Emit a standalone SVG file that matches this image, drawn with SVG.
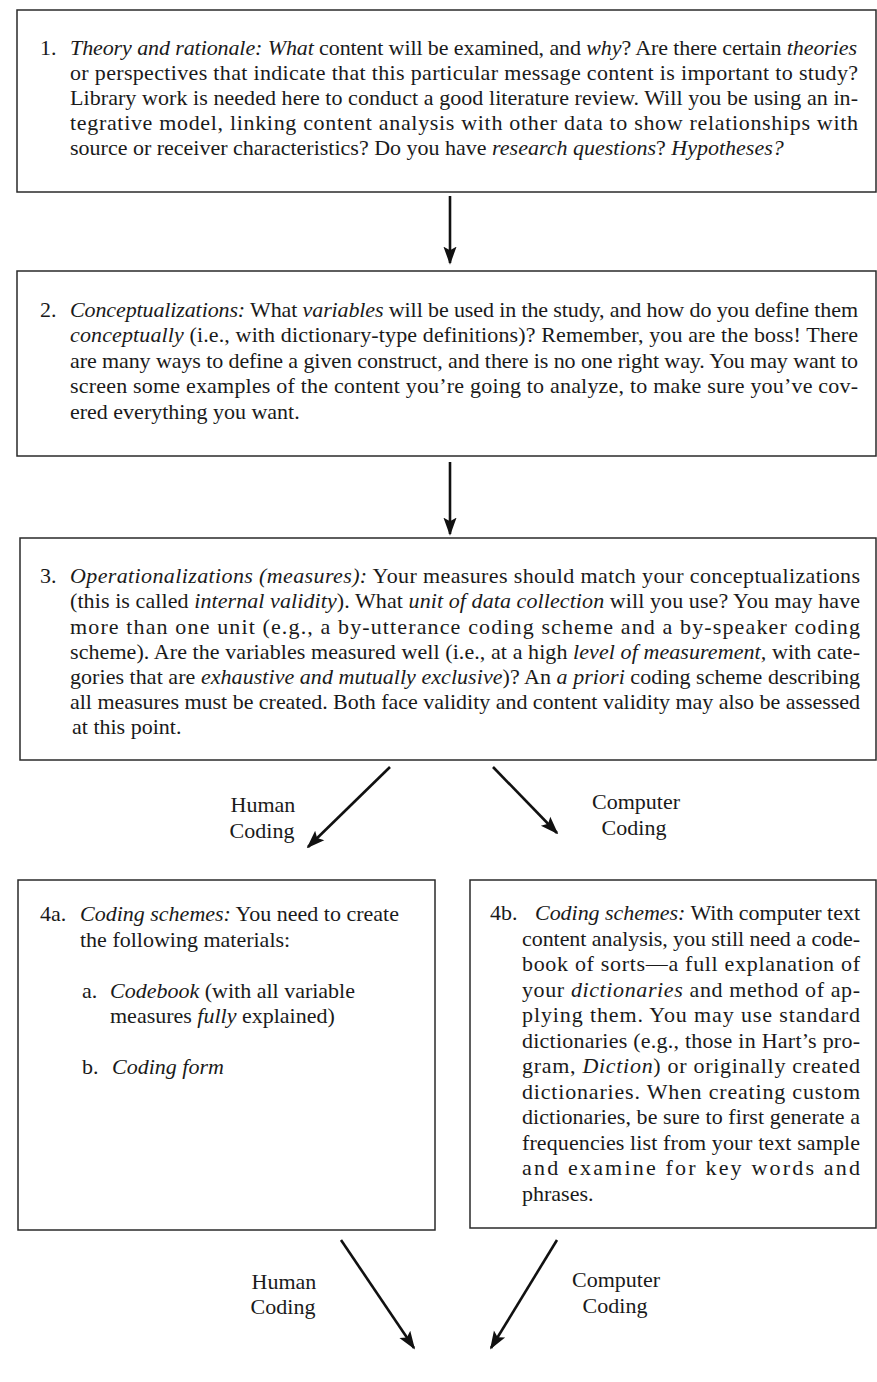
<svg xmlns="http://www.w3.org/2000/svg" width="877" height="1382" viewBox="0 0 877 1382">
<style>
.bg{fill:#ffffff}
.box{fill:#ffffff;stroke:#2a2a2a;stroke-width:1.5}
.t{font-family:"Liberation Serif","Times New Roman",serif;font-size:22px;fill:#1a1a1a}
.i{font-style:italic}
.m{text-anchor:middle}
.arr{stroke:#111;stroke-width:2.6;fill:none;marker-end:url(#ah)}
</style>
<defs>
<marker id="ah" viewBox="0 0 10 10" refX="9" refY="5" markerWidth="7" markerHeight="7" orient="auto" markerUnits="strokeWidth">
<path d="M0,1.4 L10,5 L0,8.6 L2,5 z" fill="#111"/>
</marker>
</defs>
<rect class="bg" x="0" y="0" width="877" height="1382"/>

<g id="node1">
<rect class="box" x="17" y="10" width="859" height="182"/>
<text class="t" x="40" y="55">1.</text>
<text class="t" x="70" y="55" textLength="787" lengthAdjust="spacing"><tspan class="i">Theory and rationale:</tspan> <tspan class="i">What</tspan> content will be examined, and <tspan class="i">why</tspan>? Are there certain <tspan class="i">theories</tspan></text>
<text class="t" x="70" y="80" textLength="788" lengthAdjust="spacing">or perspectives that indicate that this particular message content is important to study?</text>
<text class="t" x="70" y="105" textLength="788" lengthAdjust="spacing">Library work is needed here to conduct a good literature review. Will you be using an in-</text>
<text class="t" x="70" y="130" textLength="788" lengthAdjust="spacing">tegrative model, linking content analysis with other data to show relationships with</text>
<text class="t" x="70" y="155">source or receiver characteristics? Do you have <tspan class="i">research questions</tspan>? <tspan class="i">Hypotheses?</tspan></text>
</g>

<g id="node2">
<rect class="box" x="17" y="271" width="859" height="185"/>
<text class="t" x="40" y="317">2.</text>
<text class="t" x="70" y="317" textLength="788" lengthAdjust="spacing"><tspan class="i">Conceptualizations:</tspan> What <tspan class="i">variables</tspan> will be used in the study, and how do you define them</text>
<text class="t" x="70" y="342" textLength="788" lengthAdjust="spacing"><tspan class="i">conceptually</tspan> (i.e., with dictionary-type definitions)? Remember, you are the boss! There</text>
<text class="t" x="70" y="368" textLength="788" lengthAdjust="spacing">are many ways to define a given construct, and there is no one right way. You may want to</text>
<text class="t" x="70" y="393" textLength="788" lengthAdjust="spacing">screen some examples of the content you’re going to analyze, to make sure you’ve cov-</text>
<text class="t" x="70" y="419">ered everything you want.</text>
</g>

<g id="node3">
<rect class="box" x="20" y="538" width="856" height="222"/>
<text class="t" x="40" y="583">3.</text>
<text class="t" x="70" y="583" textLength="790" lengthAdjust="spacing"><tspan class="i">Operationalizations (measures):</tspan> Your measures should match your conceptualizations</text>
<text class="t" x="70" y="608" textLength="790" lengthAdjust="spacing">(this is called <tspan class="i">internal validity</tspan>). What <tspan class="i">unit of data collection</tspan> will you use? You may have</text>
<text class="t" x="70" y="634" textLength="790" lengthAdjust="spacing">more than one unit (e.g., a by-utterance coding scheme and a by-speaker coding</text>
<text class="t" x="70" y="659" textLength="790" lengthAdjust="spacing">scheme). Are the variables measured well (i.e., at a high <tspan class="i">level of measurement,</tspan> with cate-</text>
<text class="t" x="70" y="684" textLength="790" lengthAdjust="spacing">gories that are <tspan class="i">exhaustive and mutually exclusive</tspan>)? An <tspan class="i">a priori</tspan> coding scheme describing</text>
<text class="t" x="70" y="709" textLength="790" lengthAdjust="spacing">all measures must be created. Both face validity and content validity may also be assessed</text>
<text class="t" x="72" y="734">at this point.</text>
</g>

<g id="node4a">
<rect class="box" x="18" y="880" width="417" height="350"/>
<text class="t" x="40" y="921">4a.</text>
<text class="t" x="80" y="921"><tspan class="i">Coding schemes:</tspan> You need to create</text>
<text class="t" x="80" y="947">the following materials:</text>
<text class="t" x="82" y="998">a.</text>
<text class="t" x="110" y="998"><tspan class="i">Codebook</tspan> (with all variable</text>
<text class="t" x="110" y="1023">measures <tspan class="i">fully</tspan> explained)</text>
<text class="t" x="82" y="1074">b.</text>
<text class="t" x="112" y="1074"><tspan class="i">Coding form</tspan></text>
</g>

<g id="node4b">
<rect class="box" x="470" y="880" width="406" height="348"/>
<text class="t" x="490" y="920">4b.</text>
<text class="t" x="535" y="920" textLength="325" lengthAdjust="spacing"><tspan class="i">Coding schemes:</tspan> With computer text</text>
<text class="t" x="522" y="946" textLength="338" lengthAdjust="spacing">content analysis, you still need a code-</text>
<text class="t" x="522" y="971" textLength="338" lengthAdjust="spacing">book of sorts—a full explanation of</text>
<text class="t" x="522" y="997" textLength="338" lengthAdjust="spacing">your <tspan class="i">dictionaries</tspan> and method of ap-</text>
<text class="t" x="522" y="1022" textLength="338" lengthAdjust="spacing">plying them. You may use standard</text>
<text class="t" x="522" y="1048" textLength="338" lengthAdjust="spacing">dictionaries (e.g., those in Hart’s pro-</text>
<text class="t" x="522" y="1073" textLength="338" lengthAdjust="spacing">gram, <tspan class="i">Diction</tspan>) or originally created</text>
<text class="t" x="522" y="1099" textLength="338" lengthAdjust="spacing">dictionaries. When creating custom</text>
<text class="t" x="522" y="1124" textLength="338" lengthAdjust="spacing">dictionaries, be sure to first generate a</text>
<text class="t" x="522" y="1150" textLength="338" lengthAdjust="spacing">frequencies list from your text sample</text>
<text class="t" x="522" y="1175" textLength="338" lengthAdjust="spacing">and examine for key words and</text>
<text class="t" x="522" y="1201">phrases.</text>
</g>

<g id="connectors">
<line class="arr" x1="450" y1="196" x2="450" y2="263"/>
<line class="arr" x1="450" y1="462" x2="450" y2="534"/>
<line class="arr" x1="390" y1="767" x2="308" y2="847"/>
<line class="arr" x1="493" y1="767" x2="557" y2="833"/>
<line class="arr" x1="341" y1="1240" x2="414" y2="1348"/>
<line class="arr" x1="557" y1="1240" x2="491" y2="1348"/>
</g>

<g id="labels">
<text class="t m" x="263" y="812">Human</text>
<text class="t m" x="262" y="838">Coding</text>
<text class="t m" x="636" y="809">Computer</text>
<text class="t m" x="634" y="835">Coding</text>
<text class="t m" x="284" y="1289">Human</text>
<text class="t m" x="283" y="1314">Coding</text>
<text class="t m" x="616" y="1287">Computer</text>
<text class="t m" x="615" y="1313">Coding</text>
</g>
</svg>
